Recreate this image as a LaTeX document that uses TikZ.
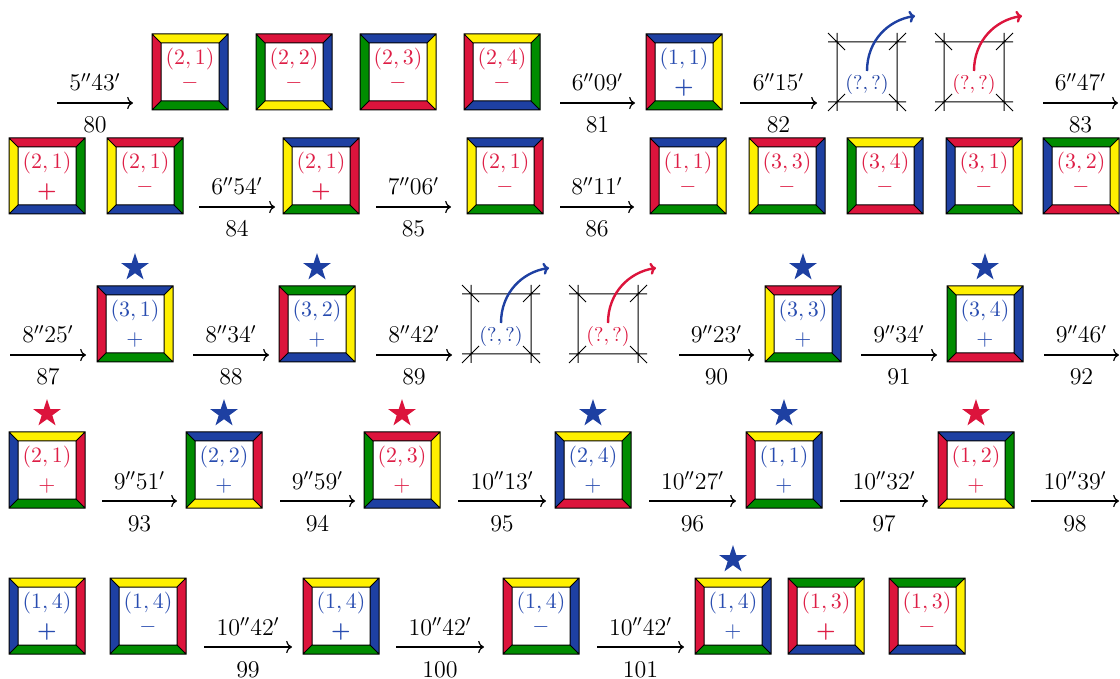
\documentclass[tikz,border=0pt]{standalone}
\usetikzlibrary{shapes.geometric,arrows.meta}
\definecolor{cR}{RGB}{220,20,60}
\definecolor{cB}{RGB}{30,64,162}
\definecolor{cY}{RGB}{255,240,0}
\definecolor{cG}{RGB}{0,140,0}
\definecolor{tR}{RGB}{222,30,70}
\definecolor{tB}{RGB}{40,76,176}
\tikzset{
 tl/.style={line width=0.5pt, draw=black},
 tilebox/.style={rectangle, minimum size=38pt, inner sep=0pt},
 lbl/.style={inner sep=0pt, font=\fontsize{10.95}{13}\selectfont},
 sgn/.style={inner sep=0pt, anchor=base, font=\fontsize{10.95}{13}\selectfont},
 qlbl/.style={inner sep=0pt, font=\fontsize{10}{12}\selectfont},
 arr/.style={->, line width=0.6pt},
 curv/.style={-{To[length=3pt,width=6pt]}, line width=1.2pt},
 toplbl/.style={anchor=base, yshift=6pt, inner sep=0pt, font=\fontsize{12}{14}\selectfont},
 botlbl/.style={anchor=base, yshift=-15pt, inner sep=0pt, font=\fontsize{12}{14}\selectfont},
 starnode/.style={star, star points=5, star point ratio=2.6, inner sep=0pt, minimum size=14.5pt, draw=none},
}
\newcommand\mn{\raisebox{2.65pt}{$-$}}
\newcommand\pl{$+$}
\newcommand\bpl{\textbf{+}}
% #1 name, #2 top-left, #3 top, #4 right, #5 bottom, #6 left, #7 text colour, #8 label, #9 sign
\newcommand\tileT[9]{%
\begin{scope}[shift={(#2)}]
 \fill[#3] (0,0) -- (76,0) -- (67,9) -- (9,9) -- cycle;
 \fill[#4] (76,0) -- (76,76) -- (67,67) -- (67,9) -- cycle;
 \fill[#5] (0,76) -- (76,76) -- (67,67) -- (9,67) -- cycle;
 \fill[#6] (0,0) -- (0,76) -- (9,67) -- (9,9) -- cycle;
 \draw[tl] (0,0) rectangle (76,76) (9,9) rectangle (67,67)
   (0,0) -- (9,9) (76,0) -- (67,9) (0,76) -- (9,67) (76,76) -- (67,67);
 \node[tilebox] (#1) at (38,38) {};
 \node[lbl,text=#7] (#1-l) at (38,25) {$(#8)$};
 \node[sgn,text=#7] (#1-s) at (38,59.5) {#9};
\end{scope}}
% #1 name, #2 centre, #3 colour
\newcommand\emptyT[3]{%
\begin{scope}[shift={(#2)}]
 \draw[tl] (-39,-30) -- (39,-30) (-39,30) -- (39,30) (-30,-39) -- (-30,39) (30,-39) -- (30,39)
   (-39,-39) -- (-22,-22) (39,-39) -- (22,-22) (-39,39) -- (-22,22) (39,39) -- (22,22);
 \coordinate (#1) at (0,-1);
 \node[qlbl,text=#3] (#1-l) at (0,13) {$(?,?)$};
 \coordinate (#1-e) at (48,-56);
 \draw[curv,#3] (#1) .. controls (0,-32) and (22,-52) .. (#1-e);
\end{scope}}
% #1 name, #2 x1, #3 x2, #4 y, #5 top, #6 bottom
\newcommand\arrw[6]{%
 \coordinate (#1s) at (#2,#4); \coordinate (#1e) at (#3,#4);
 \draw[arr] (#1s) -- (#1e) node[midway,toplbl] (#1t) {$#5$} node[midway,botlbl] (#1b) {$#6$};}
\newcommand\starT[3]{\node[starnode,fill=#3] (#1) at ([yshift=9pt]#2.north) {};}
\begin{document}
\begin{tikzpicture}[x=0.5pt,y=-0.5pt]
\useasboundingbox (0,0) rectangle (1120,679);
% Row 1
\arrw{a80}{57}{133}{103}{5''43'}{80}
\tileT{r1a}{152,34}{cY}{cB}{cG}{cR}{tR}{2,1}{\mn}
\tileT{r1b}{256,34}{cR}{cB}{cY}{cG}{tR}{2,2}{\mn}
\tileT{r1c}{360,34}{cB}{cY}{cR}{cG}{tR}{2,3}{\mn}
\tileT{r1d}{464,34}{cY}{cG}{cB}{cR}{tR}{2,4}{\mn}
\arrw{a81}{560}{635}{103}{6''09'}{81}
\tileT{r1e}{646,34}{cB}{cY}{cG}{cR}{tB}{1,1}{\bpl}
\arrw{a82}{740}{817}{103}{6''15'}{82}
\emptyT{r1f}{867,72}{cB}
\emptyT{r1g}{974,72}{cR}
\arrw{a83}{1043}{1118}{103}{6''47'}{83}
% Row 2
\tileT{r2a}{9,138}{cR}{cG}{cB}{cY}{tR}{2,1}{\bpl}
\tileT{r2b}{107,138}{cR}{cG}{cB}{cY}{tR}{2,1}{\mn}
\arrw{a84}{199}{275}{207}{6''54'}{84}
\tileT{r2c}{283,138}{cB}{cR}{cG}{cY}{tR}{2,1}{\bpl}
\arrw{a85}{376}{451}{207}{7''06'}{85}
\tileT{r2d}{467,138}{cB}{cR}{cG}{cY}{tR}{2,1}{\mn}
\arrw{a86}{560}{634}{207}{8''11'}{86}
\tileT{r2e}{650,138}{cB}{cY}{cG}{cR}{tR}{1,1}{\mn}
\tileT{r2f}{749,138}{cR}{cB}{cG}{cY}{tR}{3,3}{\mn}
\tileT{r2g}{847,138}{cY}{cB}{cR}{cG}{tR}{3,4}{\mn}
\tileT{r2h}{946,138}{cR}{cY}{cG}{cB}{tR}{3,1}{\mn}
\tileT{r2i}{1043,138}{cG}{cY}{cR}{cB}{tR}{3,2}{\mn}
% Row 3
\arrw{a87}{10}{86}{355}{8''25'}{87}
\tileT{r3a}{97,286}{cB}{cY}{cG}{cR}{tB}{3,1}{\pl}
\starT{s3a}{r3a}{cB}
\arrw{a88}{193}{269}{355}{8''34'}{88}
\tileT{r3b}{279,286}{cG}{cY}{cB}{cR}{tB}{3,2}{\pl}
\starT{s3b}{r3b}{cB}
\arrw{a89}{376}{452}{355}{8''42'}{89}
\emptyT{r3c}{501,324}{cB}
\emptyT{r3d}{608,324}{cR}
\arrw{a90}{679}{754}{355}{9''23'}{90}
\tileT{r3e}{765,286}{cR}{cB}{cG}{cY}{tB}{3,3}{\pl}
\starT{s3e}{r3e}{cB}
\arrw{a91}{861}{937}{355}{9''34'}{91}
\tileT{r3f}{947,286}{cY}{cB}{cR}{cG}{tB}{3,4}{\pl}
\starT{s3f}{r3f}{cB}
\arrw{a92}{1044}{1119}{355}{9''46'}{92}
% Row 4
\tileT{r4a}{9,432}{cY}{cR}{cG}{cB}{tR}{2,1}{\pl}
\starT{s4a}{r4a}{cR}
\arrw{a93}{102}{177}{501}{9''51'}{93}
\tileT{r4b}{186,432}{cB}{cR}{cY}{cG}{tB}{2,2}{\pl}
\starT{s4b}{r4b}{cB}
\arrw{a94}{280}{355}{501}{9''59'}{94}
\tileT{r4c}{364,432}{cR}{cY}{cB}{cG}{tR}{2,3}{\pl}
\starT{s4c}{r4c}{cR}
\arrw{a95}{458}{546}{501}{10''13'}{95}
\tileT{r4d}{555,432}{cY}{cG}{cR}{cB}{tB}{2,4}{\pl}
\starT{s4d}{r4d}{cB}
\arrw{a96}{649}{736}{501}{10''27'}{96}
\tileT{r4e}{746,432}{cY}{cB}{cG}{cR}{tB}{1,1}{\pl}
\starT{s4e}{r4e}{cB}
\arrw{a97}{840}{928}{501}{10''32'}{97}
\tileT{r4f}{938,432}{cB}{cG}{cY}{cR}{tR}{1,2}{\pl}
\starT{s4f}{r4f}{cR}
\arrw{a98}{1031}{1119}{501}{10''39'}{98}
% Row 5
\tileT{r5a}{9,578}{cY}{cR}{cG}{cB}{tB}{1,4}{\bpl}
\tileT{r5b}{110,578}{cY}{cR}{cG}{cB}{tB}{1,4}{\mn}
\arrw{a99}{204}{292}{647}{10''42'}{99}
\tileT{r5c}{303,578}{cY}{cB}{cG}{cR}{tB}{1,4}{\bpl}
\arrw{a100}{396}{484}{647}{10''42'}{100}
\tileT{r5d}{503,578}{cY}{cB}{cG}{cR}{tB}{1,4}{\mn}
\arrw{a101}{597}{684}{647}{10''42'}{101}
\tileT{r5e}{695,578}{cY}{cB}{cG}{cR}{tB}{1,4}{\pl}
\starT{s5e}{r5e}{cB}
\tileT{r5f}{788,578}{cG}{cY}{cB}{cR}{tR}{1,3}{\bpl}
\tileT{r5g}{889,578}{cG}{cY}{cB}{cR}{tR}{1,3}{\mn}
\end{tikzpicture}
\end{document}
